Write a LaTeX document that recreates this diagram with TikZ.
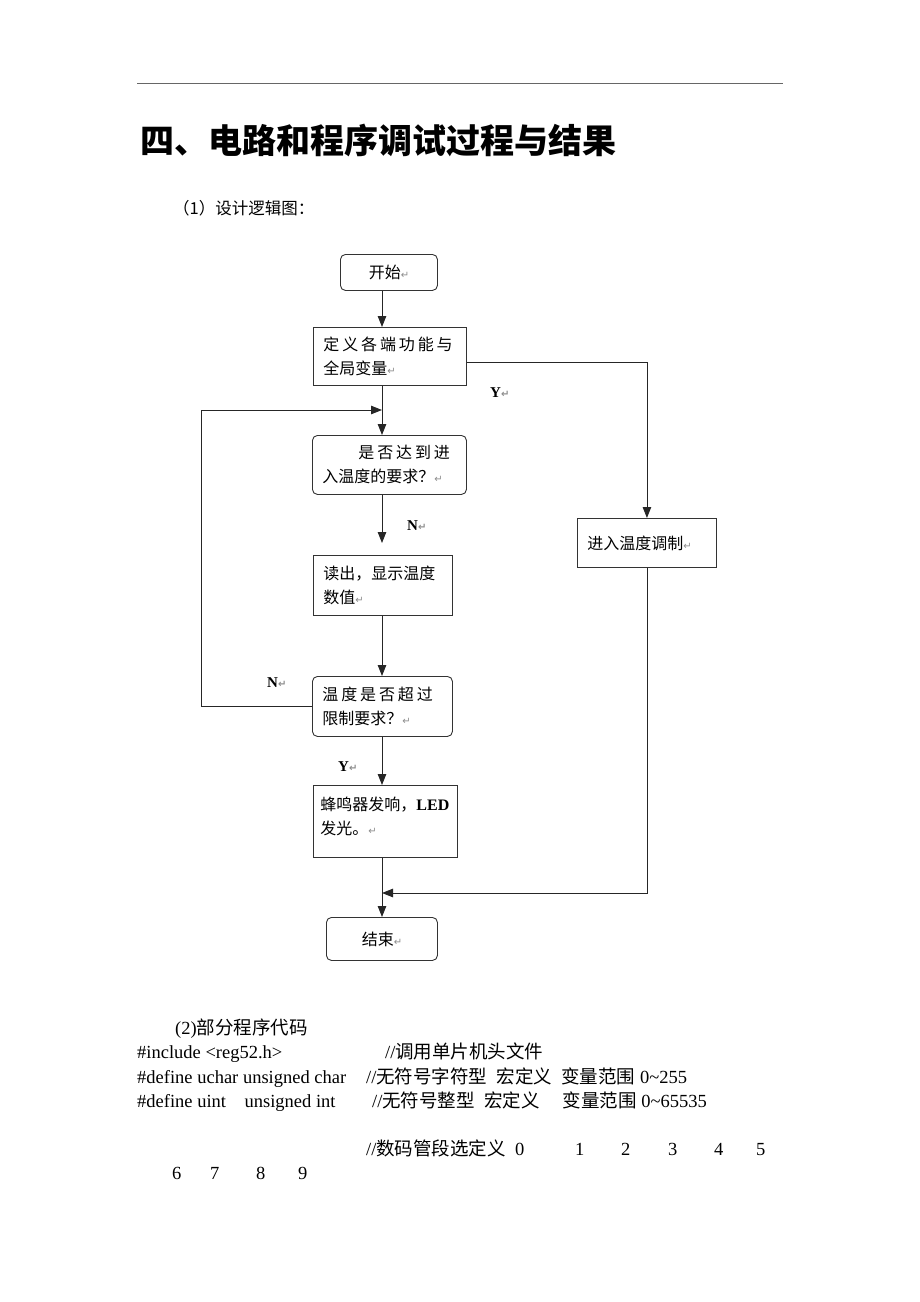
\documentclass[tikz,border=0pt]{standalone}
\usepackage{fontspec}
\setmainfont{Liberation Serif}
\newfontfamily\cjk{Noto Sans CJK SC}
\newfontfamily\cjkwide[LetterSpace=18]{Noto Sans CJK SC}
\newfontfamily\symfont{DejaVu Sans}
\usetikzlibrary{arrows.meta,positioning,shapes}
\usepackage{xcolor}
\newcommand{\retmark}{{\symfont\fontsize{10}{10}\selectfont\color{black!45}↵}}

\begin{document}
\begin{tikzpicture}[x=1pt, y=-1pt,
    >={Triangle[length=11pt, width=8.5pt]},
    box/.style={
        rectangle,
        draw=black!80,
        line width=0.9pt,
        inner xsep=10pt,
        inner ysep=4pt,
        align=left,
        anchor=north west,
        font=\cjk\fontsize{16}{24}\selectfont
    },
    roundbox/.style={box, rounded corners=5pt},
    flow/.style={draw=black!85, line width=0.9pt},
    yesno/.style={inner sep=0pt, anchor=base west, font=\bfseries\fontsize{15}{15}\selectfont},
    codeline/.style={inner sep=0pt, anchor=base west, font=\fontsize{18.5}{24}\selectfont}
]
    \fill[white] (0,0) rectangle (920,1302);
    \useasboundingbox (0,0) rectangle (920,1302);

    % page heading
    \draw[black!60, line width=0.8pt] (137,83) -- (783,83);
    \node (title) [inner sep=0pt, anchor=west, font=\cjk\bfseries\fontsize{34}{34}\selectfont] at (140,140)
    {
        四、电路和程序调试过程与结果
    };
    \node (subtitle) [inner sep=0pt, anchor=west, font=\cjk\fontsize{16.5}{20}\selectfont] at (173,208)
    {
        （1）设计逻辑图：
    };

    % flow chart
    \coordinate (trunk) at (382,0);
    \node (start) [roundbox, align=center, text width=77pt, minimum height=36pt] at (340,254)
    {
        开始\retmark
    };
    \node (define_vars) [box, text width=133pt, minimum height=58pt] at (313,327)
    {
        {\cjkwide 定义各端功能与}\\
        全局变量\retmark
    };
    \node (check_enter) [roundbox, text width=134pt, minimum height=59pt] at (312,435)
    {
        \hspace*{36pt}{\cjkwide 是否达到进}\\
        入温度的要求？\retmark
    };
    \node (read_temp) [box, text width=119pt, minimum height=60pt] at (313,555)
    {
        读出，显示温度\\
        数值\retmark
    };
    \node (check_limit) [roundbox, text width=120pt, minimum height=60pt] at (312,676)
    {
        {\cjkwide 温度是否超过}\\
        限制要求？\retmark
    };
    \node (alarm) [box, inner xsep=7pt, text width=130pt, minimum height=72pt] at (313,785)
    {
        蜂鸣器发响，{\rmfamily\bfseries LED}\\
        发光。\retmark\rule[-12pt]{0pt}{12pt}
    };
    \node (finish) [roundbox, align=center, text width=91pt, minimum height=43pt] at (326,917)
    {
        结束\retmark
    };
    \node (adjust_temp) [box, text width=119pt, minimum height=49pt] at (577,518)
    {
        进入温度调制\retmark
    };

    % branch labels
    \node (yes_define) [yesno] at (490,397) {Y\retmark};
    \node (no_enter) [yesno] at (407,530) {N\retmark};
    \node (no_limit) [yesno] at (267,687) {N\retmark};
    \node (yes_limit) [yesno] at (338,771) {Y\retmark};

    % connectors
    \coordinate (yes_corner) at (647,362);
    \coordinate (loop_corner) at (201,410);
    \coordinate (loop_tip) at (382,410);
    \coordinate (no_tip) at (382,543);
    \coordinate (join_tip) at (382,893);
    \draw[->, flow] (start.south -| trunk) to (define_vars.north -| trunk);
    \draw[->, flow] (define_vars.south -| trunk) to (check_enter.north -| trunk);
    \draw[->, flow] (define_vars.east |- yes_corner) -| (adjust_temp.north);
    \draw[->, flow] (check_enter.south -| trunk) to (no_tip);
    \draw[->, flow] (read_temp.south -| trunk) to (check_limit.north -| trunk);
    \draw[->, flow] (check_limit.west) -| (loop_corner) -- (loop_tip);
    \draw[->, flow] (check_limit.south -| trunk) to (alarm.north -| trunk);
    \draw[->, flow] (alarm.south -| trunk) to (finish.north -| trunk);
    \draw[->, flow] (adjust_temp.south) |- (join_tip);

    % program listing
    \node (code_head) [codeline] at (175,1034) {(2){\cjk 部分程序代码}};
    \node (code_include) [codeline] at (137,1058) {\#include <reg52.h>};
    \node (note_include) [codeline] at (385,1058) {//{\cjk 调用单片机头文件}};
    \node (code_uchar) [codeline] at (137,1083) {\#define uchar unsigned char};
    \node (note_uchar) [codeline] at (366,1083) {//{\cjk 无符号字符型}\ \ {\cjk 宏定义}\ \ {\cjk 变量范围} 0\textasciitilde255};
    \node (code_uint) [codeline] at (137,1107) {\#define uint\ \ \ \ unsigned int};
    \node (note_uint) [codeline] at (372,1107) {//{\cjk 无符号整型}\ \ {\cjk 宏定义}\ \ \ \ \ {\cjk 变量范围} 0\textasciitilde65535};
    \node (note_digits) [codeline] at (366,1155) {//{\cjk 数码管段选定义}\ \ 0};
    \foreach \digit/\px/\py in {1/575/1155, 2/621/1155, 3/668/1155, 4/714/1155, 5/756/1155,
                                6/172/1179, 7/210/1179, 8/256/1179, 9/298/1179}
        \node (digit_\digit) [codeline] at (\px,\py) {\digit};
\end{tikzpicture}
\end{document}
